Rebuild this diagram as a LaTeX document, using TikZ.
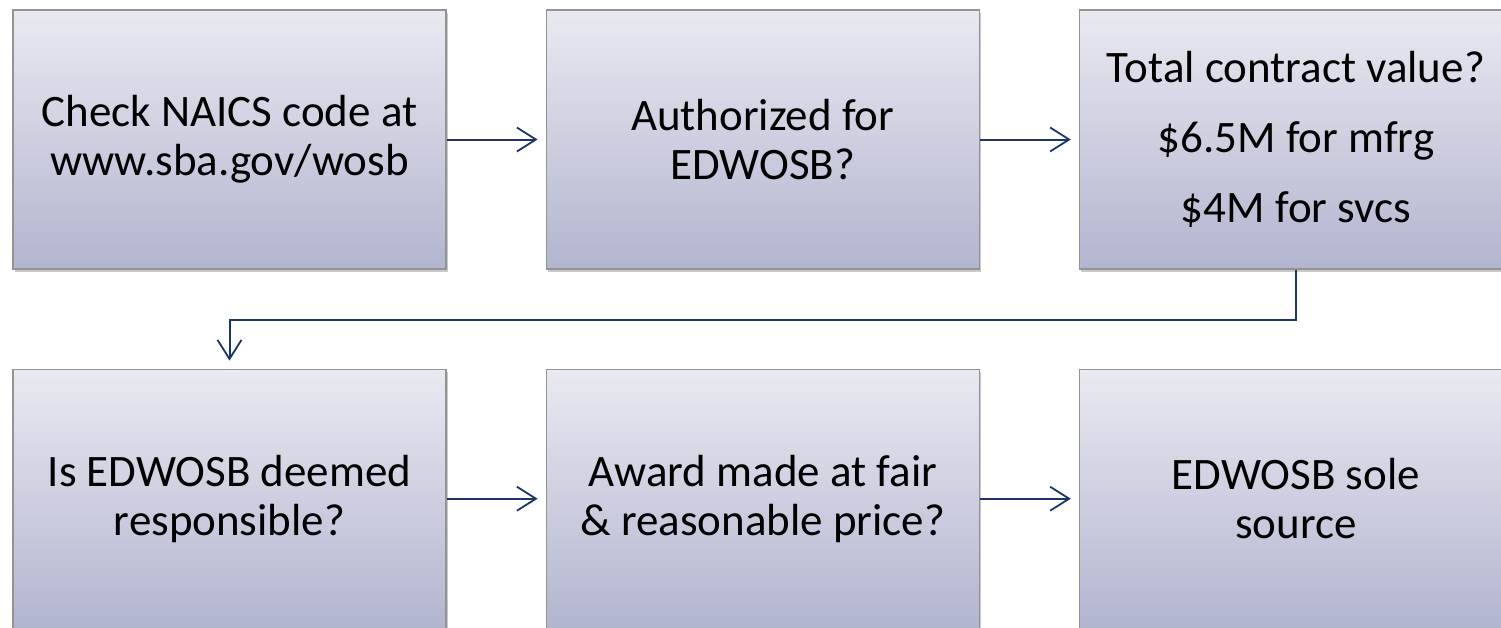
\documentclass[tikz,border=0pt]{standalone}
\usepackage{fontspec}
\setmainfont{Carlito}
\usetikzlibrary{arrows.meta, positioning, shadows}

\definecolor{boxtop}{RGB}{233,233,241}
\definecolor{boxbot}{RGB}{178,181,207}
\definecolor{flowblue}{RGB}{28,52,106}

\begin{document}
\begin{tikzpicture}[
    x=1pt, y=1pt,
    font=\fontsize{45}{49}\selectfont,
    node distance=99pt and 99pt,
    stage/.style={draw=gray!85, line width=1.2pt, rectangle, minimum width=433pt, minimum height=259pt, inner sep=0pt, align=center, top color=boxtop, bottom color=boxbot, drop shadow={shadow xshift=2pt, shadow yshift=-3pt, opacity=0.35, fill=black!60}},
    flow/.style={-{Straight Barb[length=19pt, width=24pt, line width=1.8pt]}, line width=2pt, draw=flowblue, shorten >=8pt}
]
\useasboundingbox (0,0) rectangle (1501,-627);
\clip (0,0) rectangle (1501,-627);

% Row 1
\node[stage] (naics) at (229.5,-139.5) {Check NAICS code at\\www.sba.gov/wosb};
\node[stage, right=of naics] (authorized) {Authorized for\\EDWOSB?};
\node[stage, right=of authorized] (value) {Total contract value?\\[21pt]\$6.5M for mfrg\\[21pt]\$4M for svcs};

% Row 2
\node[stage, below=of naics] (responsible) {Is EDWOSB deemed\\responsible?};
\node[stage, right=of responsible] (award) {Award made at fair\\\& reasonable price?};
\node[stage, right=of award] (solesource) {EDWOSB sole\\source};

% Connections
\draw[flow] (naics) -- (authorized);
\draw[flow] (authorized) -- (value);
\draw[flow] (value.south) -- ++(0,-50) -| (responsible.north);
\draw[flow] (responsible) -- (award);
\draw[flow] (award) -- (solesource);

\end{tikzpicture}
\end{document}
